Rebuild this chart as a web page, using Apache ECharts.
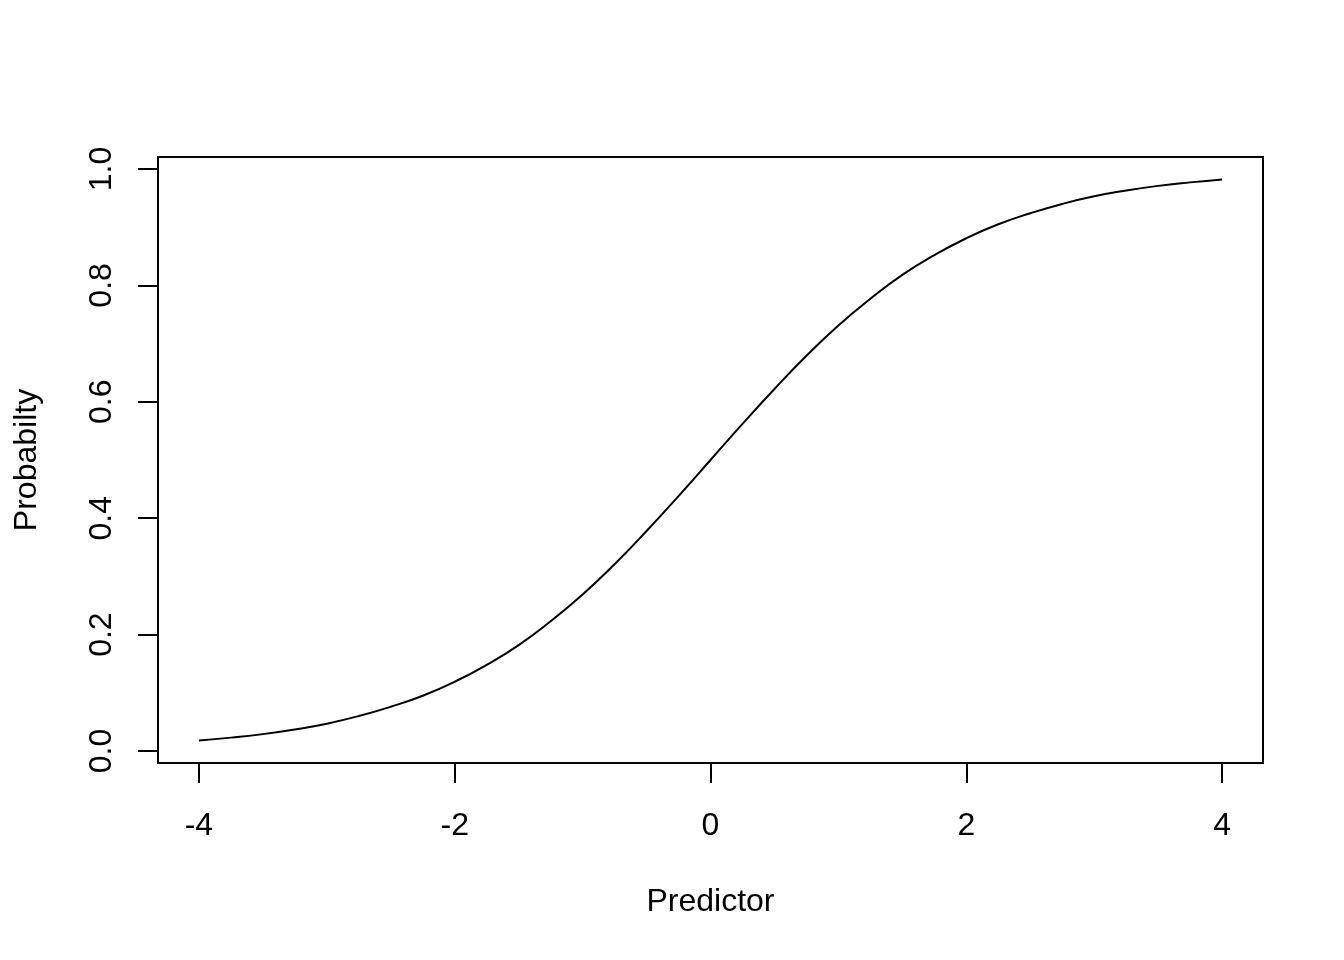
<!DOCTYPE html>
<html>
<head>
<meta charset="utf-8">
<script src="https://cdn.jsdelivr.net/npm/echarts@6/dist/echarts.min.js"></script>
<style>html,body{margin:0;padding:0;background:#fff}#c{width:1344px;height:960px}</style>
</head>
<body>
<div id="c"></div>
<script>
// Predictor values and probabilities
const predictor = [-4,-3.75,-3.5,-3.25,-3,-2.75,-2.5,-2.25,-2,-1.75,-1.5,-1.25,-1,-0.75,-0.5,-0.25,0,0.25,0.5,0.75,1,1.25,1.5,1.75,2,2.25,2.5,2.75,3,3.25,3.5,3.75,4];
const probability = [0.018,0.023,0.029,0.037,0.047,0.060,0.076,0.095,0.119,0.148,0.182,0.223,0.269,0.321,0.378,0.438,0.500,0.562,0.622,0.679,0.731,0.777,0.818,0.852,0.881,0.905,0.924,0.940,0.953,0.963,0.971,0.977,0.982];
const xTicks = [-4,-2,0,2,4];
const yTicks = [0,0.2,0.4,0.6,0.8,1.0];

const FONT = 'Liberation Sans, Arial, Helvetica, sans-serif';
const chart = echarts.init(document.getElementById('c'), null, {renderer:'canvas'});
chart.setOption({
  animation:false,
  backgroundColor:'#fff',
  grid:{left:158,right:81,top:157,bottom:197,show:true,borderColor:'#000',borderWidth:2,containLabel:false},
  xAxis:{
    type:'value',min:-4.32,max:4.32,
    name:'Predictor',nameLocation:'middle',nameGap:123,
    nameTextStyle:{fontFamily:FONT,fontSize:32,color:'#000'},
    axisLine:{show:true,onZero:false,lineStyle:{color:'#000',width:2}},
    axisTick:{show:true,length:20,inside:false,lineStyle:{color:'#000',width:2},customValues:xTicks},
    axisLabel:{show:true,margin:47,fontFamily:FONT,fontSize:32,color:'#000',customValues:xTicks,formatter:v=>String(v)},
    splitLine:{show:false}
  },
  yAxis:{
    type:'value',min:-0.0206,max:1.0206,
    name:'Probabilty',nameLocation:'middle',nameGap:115,nameRotate:90,
    nameTextStyle:{fontFamily:FONT,fontSize:32,color:'#000'},
    axisLine:{show:true,onZero:false,lineStyle:{color:'#000',width:2}},
    axisTick:{show:true,length:20,inside:false,lineStyle:{color:'#000',width:2},customValues:yTicks},
    axisLabel:{show:true,rotate:90,margin:40,fontFamily:FONT,fontSize:32,color:'#000',customValues:yTicks,formatter:v=>v.toFixed(1)},
    splitLine:{show:false}
  },
  series:[{
    type:'line',
    data:predictor.map((x,i)=>[x,probability[i]]),
    smooth:true,
    showSymbol:false,
    lineStyle:{color:'#000',width:2},
    silent:true
  }]
});
</script>
</body>
</html>
